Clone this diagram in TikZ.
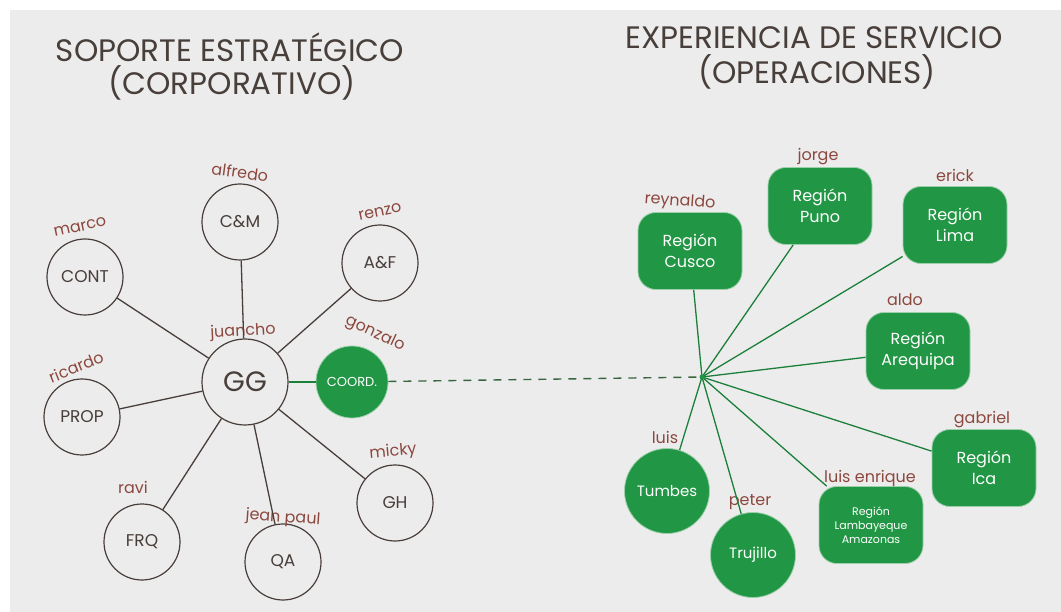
\documentclass[tikz,border=0pt]{standalone}
\usepackage{fontspec}
\setmainfont{Poppins}
\usepackage{tikz}

\definecolor{papel}{RGB}{236,236,237}
\definecolor{verde}{RGB}{33,150,68}
\definecolor{tinta}{RGB}{72,62,58}
\definecolor{firma}{RGB}{140,72,62}

\begin{document}
\begin{tikzpicture}[x=1pt, y=-1pt,
    titulo/.style={text=tinta, font=\fontsize{31}{33}\selectfont},
    area/.style={circle, minimum size=76pt, inner sep=0pt, draw=tinta,
        line width=1.2pt, text=tinta, font=\fontsize{17}{17}\selectfont},
    coord/.style={circle, minimum size=72pt, inner sep=0pt, fill=verde,
        draw=verde!45!white, line width=0.8pt, text=white,
        font=\fontsize{13}{13}\selectfont},
    region/.style={rectangle, rounded corners=18pt, minimum width=104pt,
        minimum height=77pt, inner sep=2pt, fill=verde, draw=verde!45!white,
        line width=0.8pt, text=white, align=center,
        font=\fontsize{16}{21}\selectfont},
    provincia/.style={circle, minimum size=85pt, inner sep=0pt, fill=verde,
        draw=verde!45!white, line width=0.8pt, text=white,
        font=\fontsize{15}{15}\selectfont},
    nombre/.style={text=firma, font=\fontsize{16}{16}\selectfont},
    enlace/.style={draw=tinta, line width=1.3pt},
    rama/.style={draw=verde!85!black, line width=1.3pt}]

    % hoja
    \fill[white] (0,0) rectangle (1061,612);
    \fill[papel] (10,10) rectangle (1061,612);

    % titulos
    \node[titulo] (t1) at (230,47) {SOPORTE ESTRATÉGICO};
    \node[titulo] (t2) at (232,83) {(CORPORATIVO)};
    \node[titulo] (t3) at (814,38) {EXPERIENCIA DE SERVICIO};
    \node[titulo] (t4) at (817,72) {(OPERACIONES)};

    % corporativo
    \node[area, minimum size=86pt, font=\fontsize{28}{28}\selectfont] (gg) at (245,382) {GG};
    \node[area] (cm) at (240,222) {C\&M};
    \node[area] (cont) at (85,277) {CONT};
    \node[area] (af) at (380,263) {A\&F};
    \node[area] (prop) at (82,417) {PROP};
    \node[area] (frq) at (142,542) {FRQ};
    \node[area] (qa) at (283,562) {QA};
    \node[area] (gh) at (395,503) {GH};
    \node[coord] (co) at (352,382) {COORD.};

    \node[nombre, rotate=3] (n1) at (243,332) {juancho};
    \node[nombre, rotate=-8] (n2) at (240,172) {alfredo};
    \node[nombre, rotate=12] (n3) at (80,227) {marco};
    \node[nombre, rotate=12] (n4) at (380,212) {renzo};
    \node[nombre, rotate=22] (n5) at (76,367) {ricardo};
    \node[nombre, rotate=-25] (n6) at (375,334) {gonzalo};
    \node[nombre] (n7) at (133,487) {ravi};
    \node[nombre, rotate=-4] (n8) at (283,518) {jean paul};
    \node[nombre, rotate=5] (n9) at (393,452) {micky};

    \foreach \a in {cm,cont,af,prop,frq,qa,gh}
        \draw[enlace] (gg) -- (\a);
    \draw[rama] (gg) -- (co);

    % operaciones
    \coordinate (hub) at (702,377);
    \node[region] (cusco) at (690,251) {Región\\Cusco};
    \node[region] (puno) at (820,206) {Región\\Puno};
    \node[region] (lima) at (955,225) {Región\\Lima};
    \node[region] (areq) at (918,351) {Región\\Arequipa};
    \node[region] (ica) at (984,468) {Región\\Ica};
    \node[region, font=\fontsize{11}{14}\selectfont] (lamb) at (871,525) {Región\\Lambayeque\\Amazonas};
    \node[provincia] (tumb) at (667,491) {Tumbes};
    \node[provincia] (truj) at (753,555) {Trujillo};

    \node[nombre, rotate=-4] (m1) at (680,202) {reynaldo};
    \node[nombre] (m2) at (818,157) {jorge};
    \node[nombre] (m3) at (955,175) {erick};
    \node[nombre] (m4) at (905,300) {aldo};
    \node[nombre] (m5) at (982,420) {gabriel};
    \node[nombre] (m6) at (870,478) {luis enrique};
    \node[nombre] (m7) at (665,437) {luis};
    \node[nombre] (m8) at (750,502) {peter};

    \draw[line width=1.4pt, dash pattern=on 8pt off 7pt, draw=verde!45!tinta] (co) -- (hub);
    \foreach \r in {cusco,puno,lima,areq,ica,lamb,tumb,truj}
        \draw[rama] (hub) -- (\r);
    \fill[verde] (hub) circle (2.5pt);
\end{tikzpicture}
\end{document}
